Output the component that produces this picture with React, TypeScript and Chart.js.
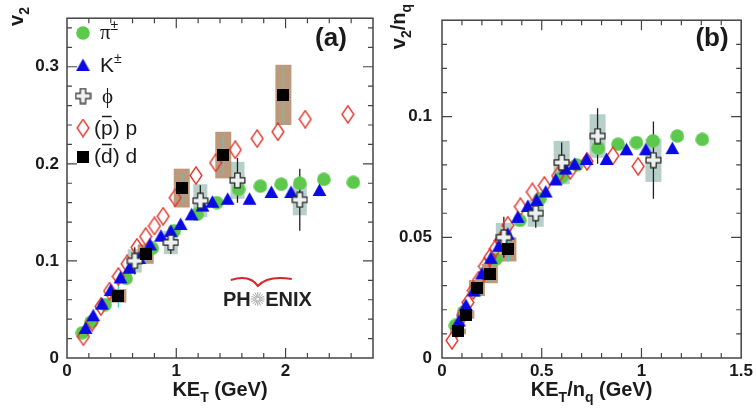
import React, { useEffect, useRef } from 'react';
import { Chart, registerables } from 'chart.js';

Chart.register(...registerables);

// ---------------- Panel (a): v2 vs KE_T ----------------
const piKE = [0.14, 0.22, 0.35, 0.54, 0.78, 0.98, 1.19, 1.37, 1.57, 1.77, 1.96, 2.13, 2.35, 2.62];
const piV2 = [0.026, 0.037, 0.055, 0.082, 0.113, 0.131, 0.148, 0.160, 0.174, 0.177, 0.179, 0.180, 0.184, 0.181];

const kKE = [0.17, 0.24, 0.32, 0.40, 0.49, 0.57, 0.66, 0.76, 0.86, 0.95, 1.04, 1.14, 1.24, 1.33, 1.47, 1.67, 1.87, 2.05, 2.31];
const kV2 = [0.031, 0.044, 0.056, 0.070, 0.083, 0.093, 0.103, 0.117, 0.126, 0.131, 0.138, 0.148, 0.157, 0.161, 0.164, 0.164, 0.171, 0.171, 0.173];

const pKE = [0.15, 0.23, 0.31, 0.39, 0.47, 0.55, 0.64, 0.72, 0.80, 0.88, 0.99, 1.18, 1.36, 1.54, 1.74, 1.93, 2.18, 2.57];
const pV2 = [0.022, 0.037, 0.053, 0.069, 0.084, 0.097, 0.114, 0.125, 0.136, 0.146, 0.165, 0.188, 0.201, 0.2145, 0.226, 0.233, 0.246, 0.251];

const phiKE = [0.62, 0.95, 1.22, 1.56, 2.13];
const phiV2 = [0.100, 0.119, 0.162, 0.183, 0.163];
const phiStat = [0.014, 0.012, 0.016, 0.023, 0.032];
const phiSys = [0.012, 0.012, 0.017, 0.019, 0.016];

const dKE = [0.47, 0.72, 1.05, 1.43, 1.98];
const dV2 = [0.064, 0.107, 0.175, 0.209, 0.271];
const dStat = [0.012, 0.010, 0.015, 0.020, 0.030];
const dSys = [0.007, 0.010, 0.020, 0.024, 0.031];

const aXTicks = [0, 1, 2];
const aXTickLabels = ['0', '1', '2'];
const aYTicks = [0, 0.1, 0.2, 0.3];
const aYTickLabels = ['0', '0.1', '0.2', '0.3'];

// ---------------- Panel (b): v2/nq vs KE_T/nq ----------------
const piKEnq = [0.067, 0.108, 0.175, 0.27, 0.39, 0.49, 0.60, 0.675, 0.783, 0.883, 0.975, 1.058, 1.18, 1.305];
const piV2nq = [0.0135, 0.019, 0.028, 0.041, 0.057, 0.066, 0.075, 0.080, 0.087, 0.0886, 0.0893, 0.090, 0.092, 0.0906];

const kKEnq = [0.085, 0.12, 0.16, 0.20, 0.245, 0.285, 0.33, 0.38, 0.43, 0.475, 0.52, 0.57, 0.62, 0.665, 0.725, 0.825, 0.925, 1.022, 1.155];
const kV2nq = [0.0155, 0.022, 0.028, 0.035, 0.0415, 0.0465, 0.0515, 0.0585, 0.063, 0.0655, 0.069, 0.074, 0.0785, 0.0805, 0.0825, 0.0825, 0.0865, 0.0865, 0.087];

const pKEnq = [0.05, 0.077, 0.103, 0.13, 0.157, 0.183, 0.213, 0.24, 0.267, 0.293, 0.33, 0.393, 0.453, 0.513, 0.58, 0.643, 0.727, 0.857, 0.983];
const pV2nq = [0.0073, 0.0123, 0.0177, 0.023, 0.028, 0.0323, 0.038, 0.0417, 0.0453, 0.0487, 0.055, 0.0627, 0.0688, 0.0715, 0.0755, 0.0777, 0.0815, 0.0838, 0.0794];

const phiKEnq = [0.31, 0.47, 0.60, 0.78, 1.06];
const phiV2nq = [0.050, 0.060, 0.081, 0.092, 0.082];
const phiStatNq = [0.0085, 0.006, 0.0083, 0.0115, 0.016];
const phiSysNq = [0.006, 0.0056, 0.009, 0.009, 0.009];

const dKEnq = [0.08, 0.122, 0.175, 0.24, 0.333];
const dV2nq = [0.011, 0.018, 0.029, 0.035, 0.045];
const dStatNq = [0.002, 0.0017, 0.0025, 0.0033, 0.005];
const dSysNq = [0.0012, 0.0017, 0.0033, 0.004, 0.005];

const bXTicks = [0, 0.5, 1, 1.5];
const bXTickLabels = ['0', '0.5', '1', '1.5'];
const bYTicks = [0, 0.05, 0.1];
const bYTickLabels = ['0', '0.05', '0.1'];

// ---------------- styles ----------------
const SANS = '"Liberation Sans", Arial, Helvetica, sans-serif';
const SERIF = '"Liberation Serif", "Times New Roman", serif';
const GREEN = '#5cc94c';
const BLUE = '#0a0ae6';
const RED = '#e5352c';
const TEXT = '#1a1a1a';
const FRAME = '#444444';
const PHI_BOX = 'rgba(170,198,192,0.85)';
const D_BOX = 'rgba(178,135,100,0.85)';
const D_BAR = '#3fcfd6';

type Markers = { circle: HTMLCanvasElement; triangle: HTMLCanvasElement; diamond: HTMLCanvasElement; cross: HTMLCanvasElement; square: HTMLCanvasElement };

function makeCanvas(w: number, h: number, draw: (c: CanvasRenderingContext2D) => void) {
  const cv = document.createElement('canvas');
  cv.width = w;
  cv.height = h;
  const c = cv.getContext('2d')!;
  draw(c);
  return cv;
}

function buildMarkers(): Markers {
  const circle = makeCanvas(14, 14, (c) => {
    c.fillStyle = GREEN;
    c.beginPath();
    c.arc(7, 7, 6.8, 0, Math.PI * 2);
    c.fill();
  });
  const triangle = makeCanvas(15, 14, (c) => {
    c.fillStyle = BLUE;
    c.beginPath();
    c.moveTo(7.5, 0.5);
    c.lineTo(14.4, 13);
    c.lineTo(0.6, 13);
    c.closePath();
    c.fill();
  });
  const diamond = makeCanvas(14, 19, (c) => {
    c.strokeStyle = RED;
    c.lineWidth = 1.4;
    c.beginPath();
    c.moveTo(7, 0.9);
    c.lineTo(12.9, 9.5);
    c.lineTo(7, 18.1);
    c.lineTo(1.1, 9.5);
    c.closePath();
    c.stroke();
  });
  const cross = makeCanvas(17, 17, (c) => {
    const m = 8.5, a = 2.7, e = 7.4;
    c.beginPath();
    c.moveTo(m - a, m - e);
    c.lineTo(m + a, m - e);
    c.lineTo(m + a, m - a);
    c.lineTo(m + e, m - a);
    c.lineTo(m + e, m + a);
    c.lineTo(m + a, m + a);
    c.lineTo(m + a, m + e);
    c.lineTo(m - a, m + e);
    c.lineTo(m - a, m + a);
    c.lineTo(m - e, m + a);
    c.lineTo(m - e, m - a);
    c.lineTo(m - a, m - a);
    c.closePath();
    c.fillStyle = '#edf2f1';
    c.fill();
    c.strokeStyle = '#222';
    c.lineWidth = 1.2;
    c.stroke();
  });
  const square = makeCanvas(12, 12, (c) => {
    c.fillStyle = '#000';
    c.fillRect(0, 0, 12, 12);
  });
  return { circle, triangle, diamond, cross, square };
}

type Piece = { t: string; sub?: boolean; sup?: boolean; over?: boolean; family?: string };

function drawRich(ctx: CanvasRenderingContext2D, pieces: Piece[], x: number, y: number, size: number, weight: string, align: 'left' | 'center' | 'right', family: string) {
  const fontFor = (p: Piece) => `${weight} ${p.sub || p.sup ? Math.round(size * 0.68) : size}px ${p.family || family}`;
  let total = 0;
  const widths = pieces.map((p) => {
    ctx.font = fontFor(p);
    const w = ctx.measureText(p.t).width;
    total += w;
    return w;
  });
  let cx = align === 'left' ? x : align === 'center' ? x - total / 2 : x - total;
  ctx.textAlign = 'left';
  ctx.textBaseline = 'alphabetic';
  pieces.forEach((p, i) => {
    ctx.font = fontFor(p);
    const dy = p.sub ? size * 0.28 : p.sup ? -size * 0.42 : 0;
    ctx.fillText(p.t, cx, y + dy);
    if (p.over) {
      ctx.save();
      ctx.strokeStyle = ctx.fillStyle as string;
      ctx.lineWidth = 1.5;
      ctx.beginPath();
      ctx.moveTo(cx + 1, y - size * 0.88);
      ctx.lineTo(cx + widths[i] - 1, y - size * 0.88);
      ctx.stroke();
      ctx.restore();
    }
    cx += widths[i];
  });
}

type ErrGroup = { xs: number[]; ys: number[]; stat: number[]; sys: number[]; boxW: number; boxColor: string; barColor: string };

function errorPlugin(groups: ErrGroup[]) {
  return {
    id: 'errorBoxes',
    beforeDatasetsDraw(chart: any) {
      const { ctx, chartArea, scales } = chart;
      const x = scales.x, y = scales.y;
      ctx.save();
      ctx.beginPath();
      ctx.rect(chartArea.left, chartArea.top, chartArea.right - chartArea.left, chartArea.bottom - chartArea.top);
      ctx.clip();
      for (const g of groups) {
        g.xs.forEach((xv, i) => {
          const px = x.getPixelForValue(xv);
          const t = y.getPixelForValue(g.ys[i] + g.sys[i]);
          const b = y.getPixelForValue(g.ys[i] - g.sys[i]);
          ctx.fillStyle = g.boxColor;
          ctx.fillRect(px - g.boxW / 2, t, g.boxW, b - t);
        });
      }
      for (const g of groups) {
        g.xs.forEach((xv, i) => {
          const px = x.getPixelForValue(xv);
          const t = y.getPixelForValue(g.ys[i] + g.stat[i]);
          const b = y.getPixelForValue(g.ys[i] - g.stat[i]);
          ctx.strokeStyle = g.barColor;
          ctx.lineWidth = 1.3;
          ctx.beginPath();
          ctx.moveTo(px, t);
          ctx.lineTo(px, b);
          ctx.stroke();
        });
      }
      ctx.restore();
    },
  };
}

function framePlugin(xMax: number, xMajor: number, xMinor: number, yMax: number, yMajor: number, yMinor: number) {
  return {
    id: 'frameTicks',
    afterDatasetsDraw(chart: any) {
      const { ctx, chartArea, scales } = chart;
      const { left, right, top, bottom } = chartArea;
      const x = scales.x, y = scales.y;
      ctx.save();
      ctx.strokeStyle = FRAME;
      ctx.lineWidth = 1.5;
      ctx.strokeRect(left, top, right - left, bottom - top);
      ctx.lineWidth = 1.2;
      const nx = Math.round(xMax / xMinor);
      for (let i = 1; i < nx; i++) {
        const v = i * xMinor;
        const major = Math.abs(v / xMajor - Math.round(v / xMajor)) < 1e-6;
        const len = major ? 10 : 5;
        const px = x.getPixelForValue(v);
        ctx.beginPath();
        ctx.moveTo(px, bottom);
        ctx.lineTo(px, bottom - len);
        ctx.moveTo(px, top);
        ctx.lineTo(px, top + len);
        ctx.stroke();
      }
      const ny = Math.floor(yMax / yMinor + 1e-6);
      for (let i = 1; i <= ny; i++) {
        const v = i * yMinor;
        const major = Math.abs(v / yMajor - Math.round(v / yMajor)) < 1e-6;
        const len = major ? 10 : 5;
        const py = y.getPixelForValue(v);
        if (py <= top + 1) continue;
        ctx.beginPath();
        ctx.moveTo(left, py);
        ctx.lineTo(left + len, py);
        ctx.moveTo(right, py);
        ctx.lineTo(right - len, py);
        ctx.stroke();
      }
      ctx.restore();
    },
  };
}

function drawLogo(ctx: CanvasRenderingContext2D, x: number, baseline: number) {
  ctx.save();
  ctx.font = `bold 20px ${SANS}`;
  ctx.fillStyle = '#222';
  ctx.textAlign = 'left';
  ctx.textBaseline = 'alphabetic';
  ctx.fillText('PH', x, baseline);
  const w = ctx.measureText('PH').width;
  const sx = x + w + 7;
  const sy = baseline - 7;
  ctx.strokeStyle = '#a8a8a8';
  ctx.lineWidth = 1;
  for (let k = 0; k < 16; k++) {
    const a = (k * Math.PI) / 8;
    ctx.beginPath();
    ctx.moveTo(sx + Math.cos(a) * 1.5, sy + Math.sin(a) * 1.5);
    ctx.lineTo(sx + Math.cos(a) * 7, sy + Math.sin(a) * 7);
    ctx.stroke();
  }
  ctx.fillText('ENIX', sx + 7.5, baseline);
  ctx.strokeStyle = '#d8262a';
  ctx.lineWidth = 2;
  ctx.beginPath();
  ctx.moveTo(sx - 27, sy - 19);
  ctx.quadraticCurveTo(sx - 8, sy - 25, sx, sy - 13);
  ctx.quadraticCurveTo(sx + 10, sy - 24, sx + 34, sy - 20);
  ctx.stroke();
  ctx.restore();
}

function textPluginA(m: Markers) {
  return {
    id: 'textA',
    afterDraw(chart: any) {
      const ctx: CanvasRenderingContext2D = chart.ctx;
      const ca = chart.chartArea;
      ctx.save();
      ctx.fillStyle = TEXT;
      drawRich(ctx, [{ t: 'KE' }, { t: 'T', sub: true }, { t: ' (GeV)' }], (ca.left + ca.right) / 2, 396, 20, 'bold', 'center', SANS);
      ctx.save();
      ctx.translate(23, 7);
      ctx.rotate(-Math.PI / 2);
      drawRich(ctx, [{ t: 'v' }, { t: '2', sub: true }], 0, 0, 20, 'bold', 'right', SANS);
      ctx.restore();
      drawRich(ctx, [{ t: '(a)' }], 331, 46, 26, 'bold', 'center', SANS);

      const rows: { mk: HTMLCanvasElement; my: number; tx: number; by: number; pieces: Piece[] }[] = [
        { mk: m.circle, my: 33, tx: 100, by: 39, pieces: [{ t: 'π', family: SERIF }, { t: '±', sup: true }] },
        { mk: m.triangle, my: 65, tx: 100, by: 72, pieces: [{ t: 'K' }, { t: '±', sup: true }] },
        { mk: m.cross, my: 96, tx: 102, by: 103, pieces: [{ t: 'ϕ', family: SERIF }] },
        { mk: m.diamond, my: 128, tx: 94, by: 135, pieces: [{ t: '(' }, { t: 'p', over: true }, { t: ') p' }] },
        { mk: m.square, my: 157, tx: 94, by: 163, pieces: [{ t: '(' }, { t: 'd', over: true }, { t: ') d' }] },
      ];
      for (const r of rows) {
        ctx.drawImage(r.mk, 83 - r.mk.width / 2, r.my - r.mk.height / 2);
        ctx.fillStyle = TEXT;
        drawRich(ctx, r.pieces, r.tx, r.by, 21, 'normal', 'left', SANS);
      }
      drawLogo(ctx, 223, 306);
      ctx.restore();
    },
  };
}

function textPluginB() {
  return {
    id: 'textB',
    afterDraw(chart: any) {
      const ctx: CanvasRenderingContext2D = chart.ctx;
      const ca = chart.chartArea;
      ctx.save();
      ctx.fillStyle = TEXT;
      drawRich(ctx, [{ t: 'KE' }, { t: 'T', sub: true }, { t: '/n' }, { t: 'q', sub: true }, { t: ' (GeV)' }], (ca.left + ca.right) / 2, 396, 20, 'bold', 'center', SANS);
      ctx.save();
      ctx.translate(25, 4);
      ctx.rotate(-Math.PI / 2);
      drawRich(ctx, [{ t: 'v' }, { t: '2', sub: true }, { t: '/n' }, { t: 'q', sub: true }], 0, 0, 20, 'bold', 'right', SANS);
      ctx.restore();
      drawRich(ctx, [{ t: '(b)' }], 332, 46, 26, 'bold', 'center', SANS);
      ctx.restore();
    },
  };
}

function pts(xs: number[], ys: number[]) {
  return xs.map((x, i) => ({ x, y: ys[i] }));
}

function scatterSet(label: string, xs: number[], ys: number[], style: HTMLCanvasElement, order: number) {
  return { label, data: pts(xs, ys), pointStyle: style, pointRadius: 6, pointHoverRadius: 6, showLine: false, order };
}

function makeConfig(opts: {
  sets: any[];
  xMax: number; yMax: number;
  xTicks: number[]; xLabels: string[]; yTicks: number[]; yLabels: string[];
  yWidth: number; rightPad: number; yPad: number;
  plugins: any[];
}) {
  const tickFont = { family: SANS, size: 17, weight: 'bold' as const };
  return {
    type: 'scatter' as const,
    data: { datasets: opts.sets },
    options: {
      animation: false as const,
      responsive: false,
      maintainAspectRatio: false,
      events: [],
      layout: { padding: { top: 5, right: opts.rightPad, left: 0, bottom: 0 } },
      plugins: { legend: { display: false }, tooltip: { enabled: false }, title: { display: false } },
      scales: {
        x: {
          type: 'linear' as const,
          min: 0,
          max: opts.xMax,
          grid: { display: false, drawTicks: false },
          border: { display: false },
          afterBuildTicks: (s: any) => { s.ticks = opts.xTicks.map((v) => ({ value: v })); },
          afterFit: (s: any) => { s.height = 52; },
          ticks: { callback: (_v: any, i: number) => opts.xLabels[i], font: tickFont, color: TEXT, padding: 3, maxRotation: 0, autoSkip: false },
        },
        y: {
          type: 'linear' as const,
          min: 0,
          max: opts.yMax,
          grid: { display: false, drawTicks: false },
          border: { display: false },
          afterBuildTicks: (s: any) => { s.ticks = opts.yTicks.map((v) => ({ value: v })); },
          afterFit: (s: any) => { s.width = opts.yWidth; },
          ticks: { callback: (_v: any, i: number) => opts.yLabels[i], font: tickFont, color: TEXT, padding: opts.yPad, autoSkip: false },
        },
      },
    },
    plugins: opts.plugins,
  };
}

export default function App() {
  const refA = useRef<HTMLCanvasElement>(null);
  const refB = useRef<HTMLCanvasElement>(null);

  useEffect(() => {
    const m = buildMarkers();
    const cfgA = makeConfig({
      sets: [
        scatterSet('(d̄) d', dKE, dV2, m.square, 0),
        scatterSet('ϕ', phiKE, phiV2, m.cross, 1),
        scatterSet('K±', kKE, kV2, m.triangle, 2),
        scatterSet('(p̄) p', pKE, pV2, m.diamond, 3),
        scatterSet('π±', piKE, piV2, m.circle, 4),
      ],
      xMax: 2.8, yMax: 0.35,
      xTicks: aXTicks, xLabels: aXTickLabels, yTicks: aYTicks, yLabels: aYTickLabels,
      yWidth: 67, rightPad: 7, yPad: 8,
      plugins: [
        errorPlugin([
          { xs: phiKE, ys: phiV2, stat: phiStat, sys: phiSys, boxW: 14, boxColor: PHI_BOX, barColor: '#222' },
          { xs: dKE, ys: dV2, stat: dStat, sys: dSys, boxW: 16, boxColor: D_BOX, barColor: D_BAR },
        ]),
        framePlugin(2.8, 1, 0.2, 0.35, 0.1, 0.02),
        textPluginA(m),
      ],
    });
    const cfgB = makeConfig({
      sets: [
        scatterSet('(d̄) d', dKEnq, dV2nq, m.square, 0),
        scatterSet('ϕ', phiKEnq, phiV2nq, m.cross, 1),
        scatterSet('K±', kKEnq, kV2nq, m.triangle, 2),
        scatterSet('(p̄) p', pKEnq, pV2nq, m.diamond, 3),
        scatterSet('π±', piKEnq, piV2nq, m.circle, 4),
      ],
      xMax: 1.5, yMax: 0.14,
      xTicks: bXTicks, xLabels: bXTickLabels, yTicks: bYTicks, yLabels: bYTickLabels,
      yWidth: 62, rightPad: 14, yPad: 10,
      plugins: [
        errorPlugin([
          { xs: phiKEnq, ys: phiV2nq, stat: phiStatNq, sys: phiSysNq, boxW: 16, boxColor: PHI_BOX, barColor: '#222' },
          { xs: dKEnq, ys: dV2nq, stat: dStatNq, sys: dSysNq, boxW: 16, boxColor: D_BOX, barColor: D_BAR },
        ]),
        framePlugin(1.5, 0.5, 0.1, 0.14, 0.05, 0.01),
        textPluginB(),
      ],
    });
    const a = new Chart(refA.current!, cfgA as any);
    const b = new Chart(refB.current!, cfgB as any);
    return () => {
      a.destroy();
      b.destroy();
    };
  }, []);

  return (
    <div style={{ position: 'absolute', left: 0, top: 0, width: 756, height: 410, background: '#fff', overflow: 'hidden' }}>
      <canvas ref={refA} width={380} height={410} style={{ position: 'absolute', left: 0, top: 0, width: 380, height: 410 }} />
      <canvas ref={refB} width={376} height={410} style={{ position: 'absolute', left: 380, top: 0, width: 376, height: 410 }} />
    </div>
  );
}
